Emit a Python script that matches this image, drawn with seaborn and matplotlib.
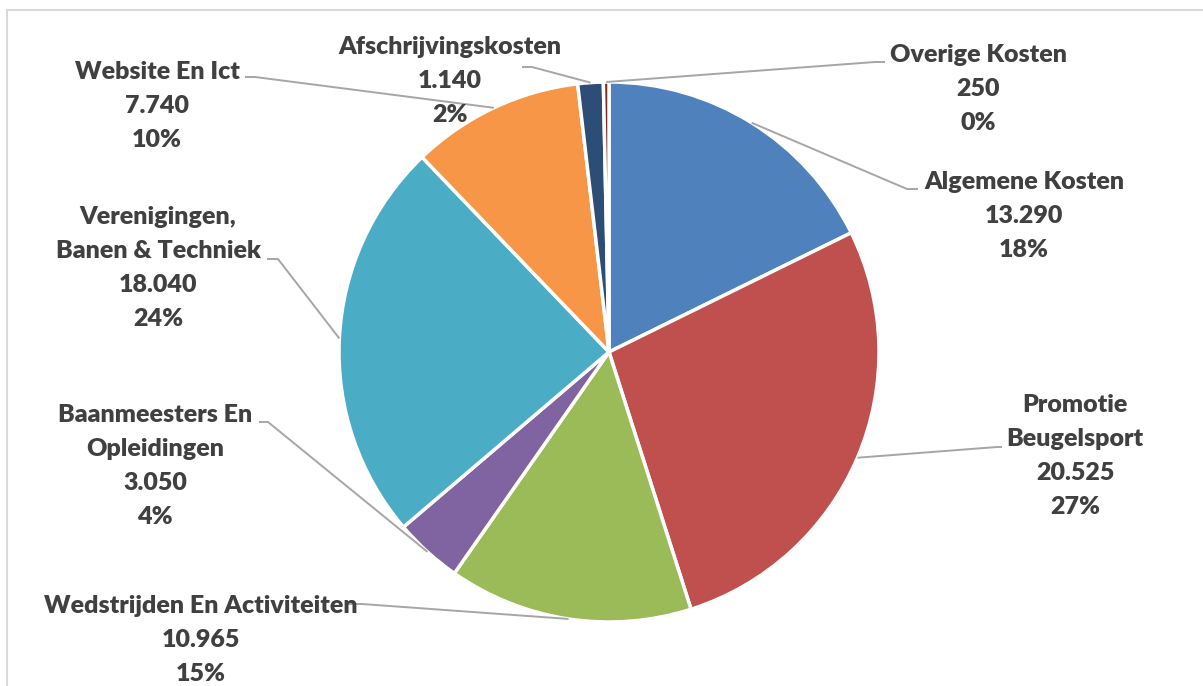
import numpy as np
import matplotlib
matplotlib.use("Agg")
import matplotlib.pyplot as plt
import seaborn as sns

# data (clockwise from 12 o'clock)
categories = ["Algemene Kosten", "Promotie\nBeugelsport", "Wedstrijden En Activiteiten",
              "Baanmeesters En\nOpleidingen", "Verenigingen,\nBanen & Techniek",
              "Website En Ict", "Afschrijvingskosten", "Overige Kosten"]
values = [13290, 20525, 10965, 3050, 18040, 7740, 1140, 250]
colors = ["#4F81BD", "#C0504D", "#9BBB59", "#8064A2", "#4BACC6", "#F79646", "#2C4D75", "#772C2A"]

# label layout in pixels (x center of text, y of first line, elbow of leader, end of leader)
label_pos = [(1024, 182), (1075, 405), (201, 606), (155, 415),
             (158, 217), (157, 72), (450, 47), (978, 55)]
elbows = [(907, 189), (997, 447), (362, 604), (268, 422),
          (278, 259), (255, 77), (532, 67), (875, 62)]
ends = [(918, 189), (1002, 447), (345, 604), (259, 422),
        (267, 259), (245, 77), (522, 67), (885, 62)]

W, H = 1203, 686


def fmt_value(v):
    return f"{v:,}".replace(",", ".")


sns.set_theme(style="white")
plt.rcParams['font.family'] = ['Lato', 'DejaVu Sans']

fig = plt.figure(figsize=(W / 100, H / 100), dpi=100)
ax = fig.add_axes([0, 0, 1, 1])

center = (609, H - 352)
radius = 270
wedges, _ = ax.pie(values, colors=colors, startangle=90, counterclock=False,
                   center=center, radius=radius,
                   wedgeprops=dict(edgecolor="white", linewidth=2.5))
ax.set_xlim(0, W)
ax.set_ylim(0, H)
ax.set_aspect("equal")
ax.axis("off")

total = sum(values)
for w, cat, v, (tx, ty), el, en in zip(wedges, categories, values, label_pos, elbows, ends):
    mid = np.deg2rad((w.theta1 + w.theta2) / 2)
    sx = center[0] + radius * np.cos(mid)
    sy = center[1] + radius * np.sin(mid)
    ax.plot([sx, el[0], en[0]], [sy, H - el[1], H - en[1]], color="#A6A6A6", lw=1.4,
            solid_capstyle="butt", zorder=3)
    lines = cat.split("\n") + [fmt_value(v), f"{round(v / total * 100)}%"]
    for i, line in enumerate(lines):
        ax.text(tx, H - (ty + 34 * i), line, ha="center", va="center", fontsize=18,
                fontweight="heavy", color="#404040", zorder=4)

# chart frame (top and left edges visible)
ax.plot([7, W], [H - 10, H - 10], color="#D9D9D9", lw=1.5, clip_on=False)
ax.plot([7, 7], [H - 10, 0], color="#D9D9D9", lw=1.5, clip_on=False)

fig.savefig("out.png", dpi=100)
